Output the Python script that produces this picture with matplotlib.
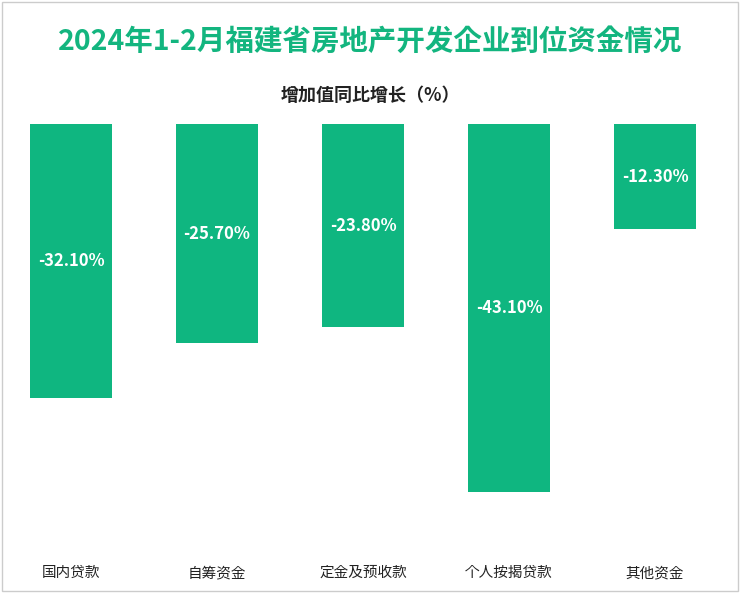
import matplotlib
matplotlib.use("Agg")
import matplotlib.pyplot as plt
from matplotlib import font_manager
from matplotlib.patches import Rectangle

names = {f.name for f in font_manager.fontManager.ttflist}
cjk = [n for n in ["Noto Sans CJK SC", "Noto Sans CJK JP", "Noto Sans CJK TC", "Noto Sans CJK KR"] if n in names]
plt.rcParams["font.family"] = cjk + ["DejaVu Sans"]

categories = ["国内贷款", "自筹资金", "定金及预收款", "个人按揭贷款", "其他资金"]
values = [-32.1, -25.7, -23.8, -43.1, -12.3]
labels = ["-32.10%", "-25.70%", "-23.80%", "-43.10%", "-12.30%"]

W, H = 740, 593
fig = plt.figure(figsize=(W / 100, H / 100), dpi=100)
fig.patches.append(Rectangle((0.003, 0.003), 0.994, 0.994, transform=fig.transFigure,
                             fill=False, edgecolor="#cccccc", linewidth=1))

fig.text(0.5, 1 - 42 / H, "2024年1-2月福建省房地产开发企业到位资金情况",
         ha="center", va="center", fontsize=20.5, fontweight="bold", color="#13b57f")
fig.text(0.5, 1 - 95 / H, "增加值同比增长（%）", ha="center", va="center",
         fontsize=13, fontweight="bold", color="#222222")

ax = fig.add_axes([0, 1 - 555 / H, 1, (555 - 124) / H])
x = range(len(categories))
ax.bar(x, values, width=82 / 146, color="#0fb680")
for i, (v, t) in enumerate(zip(values, labels)):
    ax.text(i, v / 2, t, ha="center", va="center", color="white",
            fontsize=12, fontweight="bold")
ax.set_xlim(-71 / 146, (W - 71) / 146)
ax.set_ylim(-(555 - 124) / (368 / 43.1), 0)
ax.axis("off")
for i, c in enumerate(categories):
    ax.text(i, -(573 - 124) / (368 / 43.1), c, ha="center", va="center",
            fontsize=10.5, color="#222222", clip_on=False)

fig.savefig("out.png", dpi=100, facecolor="white")
